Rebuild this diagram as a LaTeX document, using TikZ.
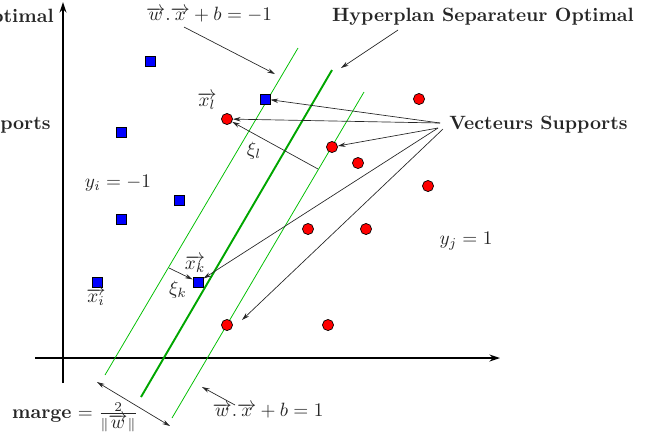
\documentclass[tikz,border=0pt]{standalone}
\usetikzlibrary{arrows.meta}
\begin{document}
\begin{tikzpicture}[x=0.52pt,y=-0.52pt,
 sq/.style={draw=black,fill=blue,rectangle,minimum size=5.3pt,inner sep=0pt,line width=0.35pt},
 ci/.style={draw=black,fill=red,circle,minimum size=5.8pt,inner sep=0pt,line width=0.35pt},
 lab/.style={inner sep=1pt,text=black!85},
 arr/.style={-{Stealth[length=4pt,width=2.3pt]},line width=0.35pt,black!85},
 marg/.style={green!75!black,line width=0.4pt},
 hyp/.style={green!65!black,line width=1pt},
 ax/.style={line width=1.05pt,-{Stealth[length=5.5pt,width=3.6pt]}}]
\useasboundingbox (0,0) rectangle (654,441);
% axes
\coordinate (ya0) at (63,383); \coordinate (ya1) at (63,2);
\coordinate (xa0) at (35,358); \coordinate (xa1) at (500,358);
\draw[ax] (ya0) -- (ya1);
\draw[ax] (xa0) -- (xa1);
% hyperplanes
\coordinate (m1a) at (105,375); \coordinate (m1b) at (298,48);
\coordinate (ha) at (141,397); \coordinate (hb) at (332,70);
\coordinate (m2a) at (172,418); \coordinate (m2b) at (364,92);
\draw[marg] (m1a) -- (m1b);
\draw[hyp] (ha) -- (hb);
\draw[marg] (m2a) -- (m2b);
% points
\node[sq] (s1) at (150,61) {};
\node[sq] (s2) at (265,99) {};
\node[sq] (s3) at (121,132) {};
\node[sq] (s4) at (179,200) {};
\node[sq] (s5) at (121,219) {};
\node[sq] (s6) at (97,282) {};
\node[sq] (s7) at (198,282) {};
\node[ci] (c1) at (419,99) {};
\node[ci] (c2) at (227,119) {};
\node[ci] (c3) at (332,147) {};
\node[ci] (c4) at (358,163) {};
\node[ci] (c5) at (428,186) {};
\node[ci] (c6) at (308,229) {};
\node[ci] (c7) at (366,229) {};
\node[ci] (c8) at (227,325) {};
\node[ci] (c9) at (328,325) {};
% labels
\node[lab] (eqm) at (209,15) {$\overrightarrow{w}.\overrightarrow{x}+b=-1$};
\node[lab] (eqp) at (268,411) {$\overrightarrow{w}.\overrightarrow{x}+b=1$};
\node[lab,font=\bfseries] (hso) at (483,17) {Hyperplan Separateur Optimal};
\node[lab,font=\bfseries,anchor=east] (hsoL) at (56,18) {Hyperplan Separateur Optimal};
\node[lab,font=\bfseries,anchor=west] (vs) at (447,125) {Vecteurs Supports};
\node[lab,font=\bfseries,anchor=east] (vsL) at (53,125) {Vecteurs Supports};
\node[lab] (xl) at (207,101) {$\overrightarrow{x_l}$};
\node[lab] (xil) at (254,151) {$\xi_l$};
\node[lab] (yi) at (118,183) {$y_i=-1$};
\node[lab] (yj) at (466,241) {$y_j=1$};
\node[lab] (xk) at (195,264) {$\overrightarrow{x_k}$};
\node[lab] (xik) at (178,290) {$\xi_k$};
\node[lab] (xi) at (96,297) {$\overrightarrow{x_i}$};
\node[lab] (marge) at (75,417) {\textbf{marge} $=\frac{2}{\parallel\overrightarrow{w}\parallel}$};
% connectors
\coordinate (e1a) at (184,27); \coordinate (e1b) at (275,74);
\draw[arr] (e1a) -- (e1b);
\coordinate (h1a) at (398,30); \coordinate (h1b) at (341,68);
\draw[arr] (h1a) -- (h1b);
\coordinate (vsA) at (440,123); \coordinate (vsB) at (438,128); \coordinate (vsC) at (443,129);
\coordinate (vsE) at (242,320);
\draw[arr] (vsA) -- (s2);
\draw[arr] (vsA) -- (c2);
\draw[arr] (vsB) -- (c3);
\draw[arr] (vsB) -- (s7);
\draw[arr] (vsC) -- (vsE);
\coordinate (xl0) at (318,169);
\draw[arr] (xl0) -- (c2);
\coordinate (xk0) at (169,268);
\draw[arr] (xk0) -- (s7);
\coordinate (mga) at (97,382); \coordinate (mgb) at (170,426);
\draw[arr,{Stealth[length=4pt,width=2.3pt]}-{Stealth[length=4pt,width=2.3pt]}] (mga) -- (mgb);
\coordinate (ep1) at (235,405); \coordinate (ep2) at (202,387);
\draw[arr] (ep1) -- (ep2);
\end{tikzpicture}
\end{document}
